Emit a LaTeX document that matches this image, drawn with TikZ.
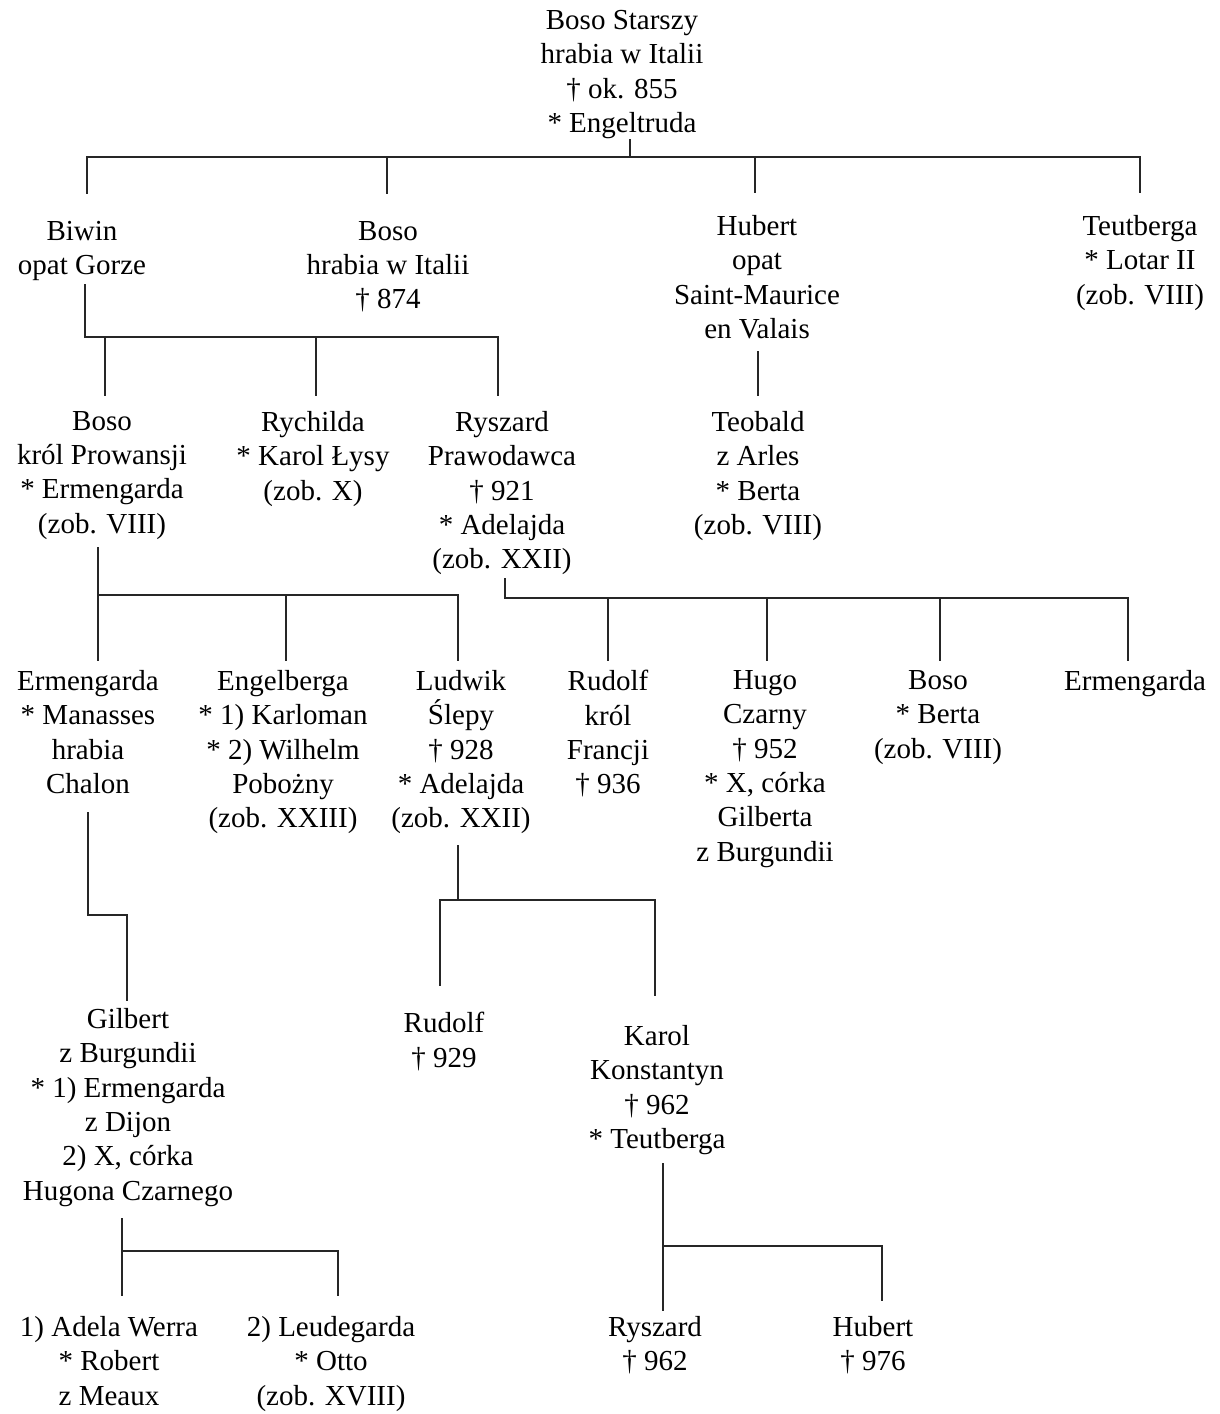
\documentclass[tikz,border=0pt]{standalone}
\usepackage{fontspec}
\setmainfont{Liberation Serif}
\begin{document}
\begin{tikzpicture}[x=1pt,y=-1pt]
\tikzset{
  person/.style={anchor=north, align=center, inner sep=0pt,
    font=\fontsize{29}{34.4}\selectfont},
  link/.style={line width=1.1pt, draw=black!85, line cap=rect}
}
\fill[white] (0,0) rectangle (1220,1414);
\useasboundingbox (0,0) rectangle (1220,1414);

% generation I
\node[person] (top) at (622,10) {Boso Starszy\\hrabia w Italii\\† ok. 855\\* Engeltruda};

% generation II
\node[person] (biwin) at (82,221) {Biwin\\opat Gorze};
\node[person] (bosoA) at (388,221) {Boso\\hrabia w Italii\\† 874};
\node[person] (hubertA) at (757,215) {Hubert\\opat\\Saint-Maurice\\en Valais};
\node[person] (teutbergaA) at (1140,215) {Teutberga\\* Lotar II\\(zob. VIII)};

% generation III
\node[person] (bosoB) at (102,411) {Boso\\król Prowansji\\* Ermengarda\\(zob. VIII)};
\node[person] (rychilda) at (313,411) {Rychilda\\* Karol Łysy\\(zob. X)};
\node[person] (ryszardA) at (502,411) {Ryszard\\Prawodawca\\† 921\\* Adelajda\\(zob. XXII)};
\node[person] (teobald) at (758,411) {Teobald\\z Arles\\* Berta\\(zob. VIII)};

% generation IV
\node[person] (ermA) at (88,670) {Ermengarda\\* Manasses\\hrabia\\Chalon};
\node[person] (engel) at (283,670) {Engelberga\\* 1) Karloman\\* 2) Wilhelm\\Pobożny\\(zob. XXIII)};
\node[person] (ludwik) at (461,670) {Ludwik\\Ślepy\\† 928\\* Adelajda\\(zob. XXII)};
\node[person] (rudolfA) at (608,670) {Rudolf\\król\\Francji\\† 936};
\node[person] (hugo) at (765,670) {Hugo\\Czarny\\† 952\\* X, córka\\Gilberta\\z Burgundii};
\node[person] (bosoC) at (938,670) {Boso\\* Berta\\(zob. VIII)};
\node[person] (ermB) at (1135,670) {Ermengarda};

% generation V
\node[person] (gilbert) at (128,1008) {Gilbert\\z Burgundii\\* 1) Ermengarda\\z Dijon\\2) X, córka\\Hugona Czarnego};
\node[person] (rudolfB) at (444,1012) {Rudolf\\† 929};
\node[person] (karol) at (657,1025) {Karol\\Konstantyn\\† 962\\* Teutberga};

% generation VI
\node[person] (adela) at (109,1316) {1) Adela Werra\\* Robert\\z Meaux};
\node[person] (leude) at (331,1316) {2) Leudegarda\\* Otto\\(zob. XVIII)};
\node[person] (ryszardB) at (655,1316) {Ryszard\\† 962};
\node[person] (hubertB) at (873,1316) {Hubert\\† 976};

% children of Boso Starszy
\coordinate (t0) at (630,157);
\coordinate (t1) at (87,157);
\coordinate (t2) at (387,157);
\coordinate (t3) at (755,157);
\coordinate (t4) at (1140,157);
\draw[link] (top.south -| t0) -- (t0);
\draw[link] (t1) -- (t4);
\draw[link, shorten >=28pt] (t1) -- (t1 |- biwin.north);
\draw[link, shorten >=28pt] (t2) -- (t2 |- bosoA.north);
\draw[link, shorten >=23pt] (t3) -- (t3 |- hubertA.north);
\draw[link, shorten >=23pt] (t4) -- (t4 |- teutbergaA.north);

% children of Biwin
\coordinate (b0) at (85,337);
\coordinate (b1) at (105,337);
\coordinate (b2) at (316,337);
\coordinate (b3) at (498,337);
\draw[link, shorten <=3pt] (biwin.south -| b0) -- (b0);
\draw[link] (b0) -- (b3);
\draw[link, shorten >=16pt] (b1) -- (b1 |- bosoB.north);
\draw[link, shorten >=16pt] (b2) -- (b2 |- rychilda.north);
\draw[link, shorten >=16pt] (b3) -- (b3 |- ryszardA.north);

% son of Hubert
\draw[link, shorten <=12pt, shorten >=16pt] (hubertA.south -| teobald) -- (teobald.north);

% children of Boso, king of Provence
\coordinate (p1) at (98,595);
\coordinate (p2) at (286,595);
\coordinate (p3) at (458,595);
\draw[link, shorten <=8pt] (bosoB.south -| p1) -- (p1);
\draw[link] (p1) -- (p3);
\draw[link, shorten >=10pt] (p1) -- (p1 |- ermA.north);
\draw[link, shorten >=10pt] (p2) -- (p2 |- engel.north);
\draw[link, shorten >=10pt] (p3) -- (p3 |- ludwik.north);

% children of Ryszard
\coordinate (r0) at (505,598);
\coordinate (r1) at (608,598);
\coordinate (r2) at (767,598);
\coordinate (r3) at (940,598);
\coordinate (r4) at (1128,598);
\draw[link, shorten <=3pt] (ryszardA.south -| r0) -- (r0);
\draw[link] (r0) -- (r4);
\draw[link, shorten >=10pt] (r1) -- (r1 |- rudolfA.north);
\draw[link, shorten >=10pt] (r2) -- (r2 |- hugo.north);
\draw[link, shorten >=10pt] (r3) -- (r3 |- bosoC.north);
\draw[link, shorten >=10pt] (r4) -- (r4 |- ermB.north);

% son of Ermengarda
\coordinate (e0) at (88,915);
\coordinate (e1) at (127,915);
\draw[link, shorten <=19pt] (ermA.south -| e0) -- (e0) -- (e1);
\draw[link, shorten >=8pt] (e1) -- (e1 |- gilbert.north);

% children of Ludwik
\coordinate (l0) at (458,900);
\coordinate (l1) at (440,900);
\coordinate (l2) at (655,900);
\draw[link, shorten <=11pt] (ludwik.south -| l0) -- (l0);
\draw[link] (l1) -- (l2);
\draw[link, shorten >=27pt] (l1) -- (l1 |- rudolfB.north);
\draw[link, shorten >=30pt] (l2) -- (l2 |- karol.north);

% daughters of Gilbert
\coordinate (g1) at (122,1251);
\coordinate (g2) at (338,1251);
\draw[link, shorten <=12pt, shorten >=21pt] (gilbert.south -| g1) -- (g1 |- adela.north);
\draw[link] (g1) -- (g2);
\draw[link, shorten >=21pt] (g2) -- (g2 |- leude.north);

% sons of Karol Konstantyn
\coordinate (k1) at (663,1246);
\coordinate (k2) at (882,1246);
\draw[link, shorten <=9pt, shorten >=6pt] (karol.south -| k1) -- (k1 |- ryszardB.north);
\draw[link] (k1) -- (k2);
\draw[link, shorten >=16pt] (k2) -- (k2 |- hubertB.north);
\end{tikzpicture}
\end{document}
